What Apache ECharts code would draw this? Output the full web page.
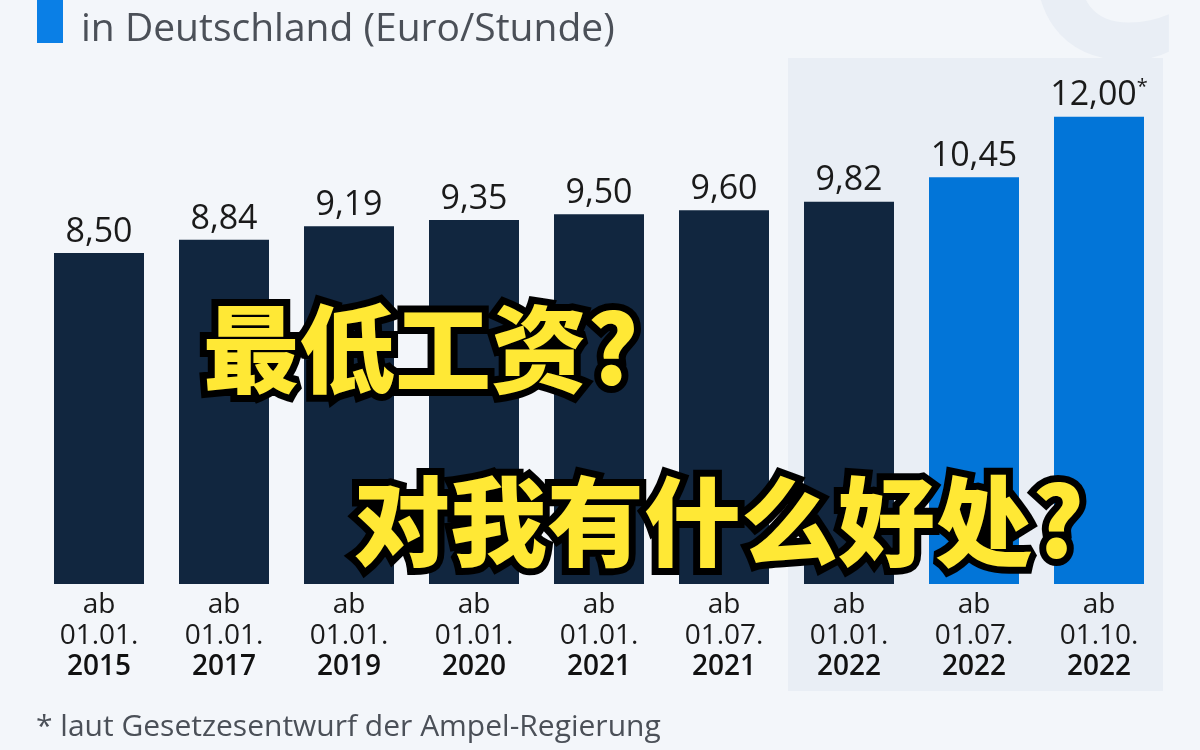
<!DOCTYPE html>
<html>
<head>
<meta charset="utf-8">
<script src="https://cdn.jsdelivr.net/npm/echarts@6/dist/echarts.min.js"></script>
<style>html,body{margin:0;padding:0;background:#f3f6fa;}#c{width:1200px;height:750px;}</style>
</head>
<body>
<div id="c"></div>
<script>
var dates = ['01.01.', '01.01.', '01.01.', '01.01.', '01.01.', '01.07.', '01.01.', '01.07.', '01.10.'];
var years = ['2015', '2017', '2019', '2020', '2021', '2021', '2022', '2022', '2022'];
var wages = [8.50, 8.84, 9.19, 9.35, 9.50, 9.60, 9.82, 10.45, 12.00];
var notes = ['', '', '', '', '', '', '', '', '*'];
var highlighted = [false, false, false, false, false, false, false, true, true];

var categories = dates.map(function (d, i) { return 'ab\n' + d + '|' + years[i]; });

var chart = echarts.init(document.getElementById('c'));
var barData = wages.map(function (v, i) {
  return { value: v, itemStyle: { color: highlighted[i] ? '#0275d8' : '#11263f' } };
});

chart.setOption({
  backgroundColor: '#f3f6fa',
  animation: false,
  grid: { left: 36.5, right: 38.5, top: 39, bottom: 166 },
  xAxis: {
    type: 'category',
    data: categories,
    axisLine: { show: false },
    axisTick: { show: false },
    axisLabel: {
      margin: 6,
      interval: 0,
      formatter: function (val) {
        var p = val.split('|');
        return '{n|' + p[0].replace('\n', '}\n{n|') + '}\n{b|' + p[1] + '}';
      },
      rich: {
        n: { fontFamily: 'Open Sans', fontSize: 28, color: '#1a1a1a', lineHeight: 31 },
        b: { fontFamily: 'Open Sans', fontSize: 28, fontWeight: 600, color: '#111', lineHeight: 31 }
      }
    }
  },
  yAxis: { type: 'value', min: 0, max: 14, show: false, splitLine: { show: false } },
  series: [{
    type: 'bar',
    data: barData,
    barWidth: 90,
    z: 2,
    label: {
      show: true,
      position: 'top',
      distance: 4,
      formatter: function (p) {
        var s = p.value.toFixed(2).replace('.', ',');
        return '{v|' + s + '}' + (notes[p.dataIndex] ? '{s|' + notes[p.dataIndex] + '}' : '');
      },
      rich: {
        v: { fontFamily: 'Open Sans', fontSize: 34, color: '#1a1a1a' },
        s: { fontFamily: 'Open Sans', fontSize: 20, color: '#1a1a1a', verticalAlign: 'top', padding: [0, 0, 16, 0] }
      }
    }
  }],
  graphic: [
    { type: 'text', z: -2, left: 1008, top: -178, style: { text: '€', fontFamily: 'Open Sans', fontWeight: 'bold', fontSize: 300, fill: '#e9eef5' } },
    { type: 'rect', z: -1, shape: { x: 788, y: 58, width: 375, height: 633 }, style: { fill: '#e9eef5' } },
    { type: 'rect', z: 5, shape: { x: 37, y: 0, width: 26, height: 43 }, style: { fill: '#0a7fe6' } },
    { type: 'text', z: 5, left: 81, top: 10, style: { text: 'in Deutschland (Euro/Stunde)', fontFamily: 'Open Sans', fontSize: 39, fill: '#4b5058' } },
    { type: 'text', z: 5, left: 36, top: 712, style: { text: '* laut Gesetzesentwurf der Ampel-Regierung', fontFamily: 'Open Sans', fontSize: 30, fill: '#4b5058' } },
    { type: 'text', z: 100, left: 196, top: 294, style: { text: '最低工资?', fontFamily: 'Noto Sans CJK SC', fontWeight: 900, fontSize: 96, fill: '#ffe835', stroke: '#000', lineWidth: 14, shadowColor: '#000', shadowOffsetX: -5, shadowOffsetY: 5, shadowBlur: 0 } },
    { type: 'text', z: 100, left: 346, top: 466, style: { text: '对我有什么好处?', fontFamily: 'Noto Sans CJK SC', fontWeight: 900, fontSize: 97, fill: '#ffe835', stroke: '#000', lineWidth: 14, shadowColor: '#000', shadowOffsetX: -5, shadowOffsetY: 5, shadowBlur: 0 } }
  ]
});
</script>
</body>
</html>
